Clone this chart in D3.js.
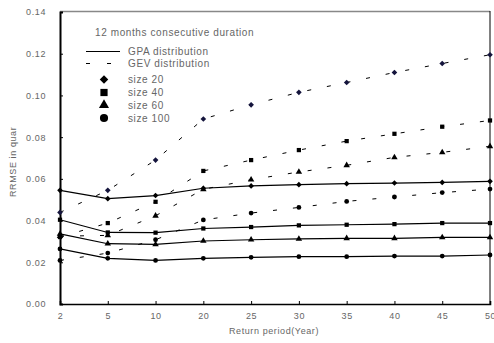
<!DOCTYPE html>
<html>
<head>
<meta charset="utf-8">
<script src="https://cdn.jsdelivr.net/npm/d3@7"></script>
<style>
  body { margin: 0; background: #fff; }
  text { font-family: "Liberation Sans", Arial, sans-serif; fill: #666; letter-spacing: 0.6px; }
</style>
</head>
<body>
<svg id="chart" width="494" height="343"></svg>
<script>
const periods = ["2", "5", "10", "20", "25", "30", "35", "40", "45", "50"]
const yTicks = [0, 0.02, 0.04, 0.06, 0.08, 0.10, 0.12, 0.14]

// GPA distribution (solid)
const gpa20 = [0.0545, 0.0505, 0.052, 0.0555, 0.0566, 0.0572, 0.0577, 0.058, 0.0583, 0.0588]
const gpa40 = [0.0404, 0.0343, 0.0342, 0.0362, 0.0369, 0.0377, 0.038, 0.0383, 0.0388, 0.0388]
const gpa60 = [0.0336, 0.0289, 0.0286, 0.0302, 0.0308, 0.0312, 0.0315, 0.0315, 0.0319, 0.0319]
const gpa100 = [0.0264, 0.0219, 0.0209, 0.0219, 0.0224, 0.0227, 0.0227, 0.023, 0.023, 0.0235]

// GEV distribution (dashed)
const gev20 = [0.0439, 0.0545, 0.069, 0.0887, 0.0955, 0.1015, 0.1062, 0.111, 0.1153, 0.1195]
const gev40 = [0.0321, 0.0388, 0.049, 0.0638, 0.069, 0.0738, 0.0781, 0.0816, 0.085, 0.088]
const gev60 = [0.0325, 0.0329, 0.0423, 0.055, 0.0596, 0.0633, 0.0665, 0.0703, 0.0727, 0.0756]
const gev100 = [0.0209, 0.0244, 0.0308, 0.0403, 0.0436, 0.0463, 0.0492, 0.0513, 0.0534, 0.0551]

// diamond drawn as a square turned by 45 degrees
const symbolRhomb = {
  draw(context, size) {
    const r = Math.sqrt(size / 2)
    context.moveTo(0, -r)
    context.lineTo(r, 0)
    context.lineTo(0, r)
    context.lineTo(-r, 0)
    context.closePath()
  }
}

const series = [
  {vals: gpa20, shape: symbolRhomb, dash: null, color: "#000"},
  {vals: gpa40, shape: d3.symbolSquare, dash: null, color: "#000"},
  {vals: gpa60, shape: d3.symbolTriangle, dash: null, color: "#000"},
  {vals: gpa100, shape: d3.symbolCircle, dash: null, color: "#000"},
  {vals: gev20, shape: symbolRhomb, dash: "4,16", color: "#14143c"},
  {vals: gev40, shape: d3.symbolSquare, dash: "4,16", color: "#000"},
  {vals: gev60, shape: d3.symbolTriangle, dash: "4,16", color: "#000"},
  {vals: gev100, shape: d3.symbolCircle, dash: "4,16", color: "#000"}
]

const margin = {top: 12, right: 4, bottom: 39, left: 60},
    width = 494, height = 343

const svg = d3.select("#chart")

const fx = d3.scalePoint()
    .domain(periods)
    .range([margin.left, width - margin.right])
const fy = d3.scaleLinear()
    .domain([0, 0.14])
    .range([height - margin.bottom, margin.top])

// frame: top gray, right black
svg.append("line")
    .attr("x1", margin.left).attr("x2", width - margin.right)
    .attr("y1", margin.top - 0.5).attr("y2", margin.top - 0.5)
    .attr("stroke", "#888").attr("stroke-width", 1.5)
svg.append("line")
    .attr("x1", width - margin.right).attr("x2", width - margin.right)
    .attr("y1", margin.top - 1).attr("y2", height - margin.bottom)
    .attr("stroke", "#000").attr("stroke-width", 1)

const xAxis = svg.append("g")
    .attr("transform", "translate(0," + (height - margin.bottom) + ")")
    .call(d3.axisBottom(fx).tickSize(-3).tickPadding(9))
xAxis.select(".domain").attr("stroke-width", 1.6)

const yAxis = svg.append("g")
    .attr("transform", "translate(" + margin.left + ",0)")
    .call(d3.axisLeft(fy).tickValues(yTicks).tickFormat(d3.format(".2f")).tickSize(-3).tickPadding(14))
yAxis.select(".domain").attr("stroke-width", 2)

svg.selectAll(".tick text")
    .attr("font-size", 9)
    .attr("fill", "#666")

const line = d3.line()
    .x((d, i) => fx(periods[i]))
    .y(d => fy(d))

series.forEach(s => {
  svg.append("path")
      .datum(s.vals)
      .attr("fill", "none")
      .attr("stroke", "#000")
      .attr("stroke-width", s.dash ? 1 : 1.2)
      .attr("stroke-dasharray", s.dash)
      .attr("d", line)
  svg.append("g").selectAll("path")
      .data(s.vals)
      .join("path")
      .attr("transform", (d, i) => "translate(" + fx(periods[i]) + "," + fy(d) + ")")
      .attr("d", d3.symbol().type(s.shape).size(s.shape === symbolRhomb ? 16 : 18))
      .attr("fill", s.color)
})

// legend
const legend = svg.append("g")
legend.append("text")
    .attr("x", 95).attr("y", 36)
    .attr("font-size", 10)
    .text("12 months consecutive duration")

const legendRows = [
  {label: "GPA distribution", y: 51.5, dash: null},
  {label: "GEV distribution", y: 63.5, dash: "4,17"}
]
legendRows.forEach(r => {
  legend.append("line")
      .attr("x1", 86).attr("x2", 120)
      .attr("y1", r.y).attr("y2", r.y)
      .attr("stroke", "#000").attr("stroke-width", 1.2)
      .attr("stroke-dasharray", r.dash)
  legend.append("text")
      .attr("x", 128).attr("y", r.y + 3.5)
      .attr("font-size", 10)
      .text(r.label)
})

const sizeRows = [
  {label: "size 20", y: 79.5, shape: symbolRhomb, area: 36},
  {label: "size 40", y: 92.5, shape: d3.symbolSquare, area: 52},
  {label: "size 60", y: 105, shape: d3.symbolTriangle, area: 44},
  {label: "size 100", y: 118, shape: d3.symbolCircle, area: 52}
]
sizeRows.forEach(r => {
  legend.append("path")
      .attr("transform", "translate(104," + r.y + ")")
      .attr("d", d3.symbol().type(r.shape).size(r.area))
      .attr("fill", "#000")
  legend.append("text")
      .attr("x", 128).attr("y", r.y + 3.5)
      .attr("font-size", 10)
      .text(r.label)
})

// axis titles
svg.append("text")
    .attr("x", 274).attr("y", 334)
    .attr("text-anchor", "middle")
    .attr("font-size", 9)
    .text("Return period(Year)")

svg.append("text")
    .attr("transform", "rotate(-90)")
    .attr("x", -197).attr("y", 16)
    .attr("text-anchor", "start")
    .attr("font-size", 9)
    .text("RRMSE in quar")
</script>
</body>
</html>
